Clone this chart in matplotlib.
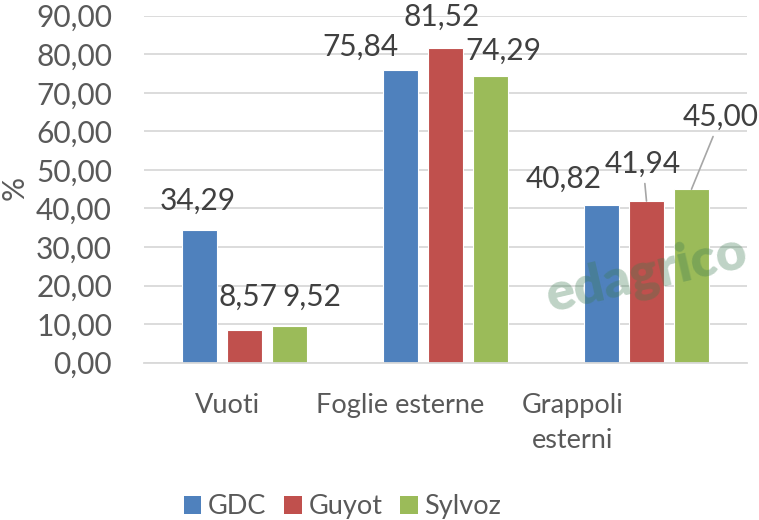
import matplotlib
matplotlib.use("Agg")
import matplotlib.pyplot as plt
import matplotlib.transforms as mtransforms
from matplotlib.patches import Patch
import numpy as np

plt.rcParams['font.family'] = ['Lato', 'DejaVu Sans']

categories = ["Vuoti", "Foglie esterne", "Grappoli\nesterni"]
series_names = ["GDC", "Guyot", "Sylvoz"]
gdc = [34.29, 75.84, 40.82]
guyot = [8.57, 81.52, 41.94]
sylvoz = [9.52, 74.29, 45.00]
yticks = [0, 10, 20, 30, 40, 50, 60, 70, 80, 90]

colors = ["#4F81BD", "#C0504D", "#9BBB59"]
# label offsets in pixels (dx, dy) from bar top centre
label_offsets = [
    [(-1.5, 30), (-40.5, 24), (-37.5, 27)],
    [(3.5, 33), (-4, 32), (-3.5, 37)],
    [(22.5, 29), (12.5, 25), (29.5, 72)],
]
leaders = [[False, False, False], [False, False, True], [False, False, True]]

FS_NUM = 21.5
FS_TXT = 19.5
fig = plt.figure(figsize=(7.59, 5.2), dpi=100)
ax = fig.add_axes([144/759, 1-362.7/520, (747-144)/759, (362.7-15.7)/520])

x = np.arange(len(categories))
width = 35/201
step = 45/201
all_series = [gdc, guyot, sylvoz]
px2pt = 72/100
for i, (vals, name, c) in enumerate(zip(all_series, series_names, colors)):
    xs = x + (i-1)*step
    ax.bar(xs, vals, width, color=c, edgecolor="white", linewidth=0.8, label=name, zorder=2)
    for j, v in enumerate(vals):
        dx, dy = label_offsets[i][j]
        txt = f"{v:.2f}".replace(".", ",")
        kw = {}
        if leaders[i][j]:
            kw['arrowprops'] = dict(arrowstyle='-', color="#A6A6A6", lw=1.2, shrinkA=2, shrinkB=0)
        ax.annotate(txt, xy=(xs[j], v), xytext=(dx*px2pt, dy*px2pt), textcoords="offset points",
                    ha="center", va="center", fontsize=FS_NUM, color="#404040", zorder=5, **kw)

ax.set_ylim(0, 90)
ax.set_xlim(-0.5, 2.5)
ax.set_yticks(yticks)
ax.set_yticklabels([f"{t:.2f}".replace(".", ",") for t in yticks])
ax.tick_params(axis='y', length=0, pad=23, labelsize=FS_NUM, labelcolor="#595959")
ax.set_xticks(x)
ax.set_xticklabels(categories, linespacing=1.5, multialignment="center")
ax.tick_params(axis='x', length=0, pad=22, labelsize=FS_TXT, labelcolor="#595959")
shifts = [-17.5, -45.5, -73.5]
for lbl, s in zip(ax.get_xticklabels(), shifts):
    lbl.set_transform(lbl.get_transform() + mtransforms.ScaledTranslation(s/100, 0, fig.dpi_scale_trans))
ax.yaxis.grid(True, color="#D9D9D9", lw=1.3, zorder=0)
ax.set_axisbelow(True)
for sp in ["left", "right", "top"]:
    ax.spines[sp].set_visible(False)
ax.spines["bottom"].set_color("#D9D9D9")
ax.spines["bottom"].set_linewidth(1.3)

fig.text(15/759, 1-188/520, "%", rotation=90, ha="center", va="center", fontsize=FS_NUM, color="#595959")

# watermark
fig.text(550/759, 1-312/520, "edagrico", rotation=13, rotation_mode="anchor", ha="left", va="baseline",
         fontsize=38, fontweight="heavy", color="#3C7A50", alpha=0.33, zorder=10)

handles = [Patch(facecolor=c, label=n) for c, n in zip(colors, series_names)]
leg = fig.legend(handles=handles, loc="center", bbox_to_anchor=(342.5/759, 1-506.7/520), ncol=3,
                 frameon=False, fontsize=FS_TXT, handlelength=0.65, handleheight=0.65,
                 handletextpad=0.25, columnspacing=0.65)
for t in leg.get_texts():
    t.set_color("#595959")

fig.savefig("out.png", dpi=100)
